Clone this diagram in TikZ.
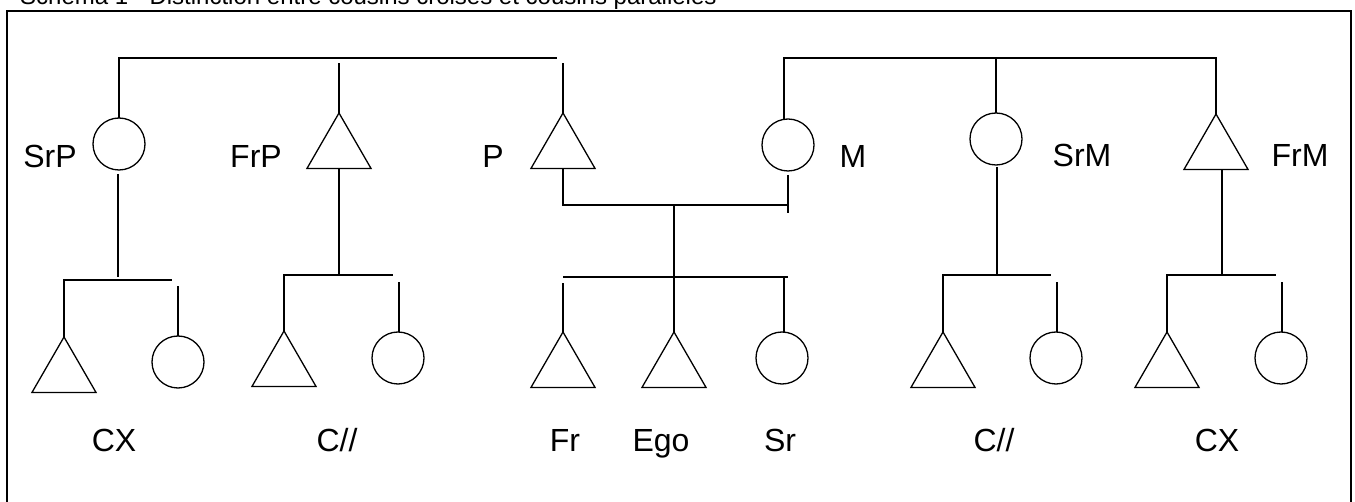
\documentclass[tikz,border=0pt]{standalone}
\usepackage{fontspec}
\setmainfont{Liberation Sans}
\usetikzlibrary{shapes.geometric}
\begin{document}
\begin{tikzpicture}[x=1pt,y=-1pt,
  ln/.style={line width=1.3pt,line cap=butt},
  fem/.style={circle,draw,line width=1.3pt,minimum size=52pt,inner sep=0pt,outer sep=0pt},
  mal/.style={regular polygon,regular polygon sides=3,draw,line width=1.3pt,minimum size=74pt,inner sep=0pt,outer sep=0pt},
  lbl/.style={anchor=base,inner sep=0pt,font=\fontsize{32}{38}\selectfont},
  ttl/.style={anchor=base west,inner sep=0pt,font=\fontsize{24}{28}\selectfont}]
\useasboundingbox (0,0) rectangle (1355,502);
% title (cut by the page edge) and frame
\node[ttl] (title) at (20,4.5) {Schéma 1 - Distinction entre cousins croisés et cousins parallèles};
\coordinate (fbl) at (7,600); \coordinate (ftl) at (7,11);
\coordinate (ftr) at (1351,11); \coordinate (fbr) at (1351,600);
\draw[line width=2.6pt] (fbl) -- (ftl) -- (ftr) -- (fbr);
% generation 1
\node[fem] (srp) at (119,144) {};
\node[mal] (frp) at (339,150) {};
\node[mal] (p) at (563,150) {};
\node[fem] (m) at (788,145) {};
\node[fem] (srm) at (996,139) {};
\node[mal] (frm) at (1216,151) {};
\node[lbl] (lsrp) at (50,168) {SrP};
\node[lbl] (lfrp) at (256,168) {FrP};
\node[lbl] (lp) at (493,168) {P};
\node[lbl] (lm) at (853,168) {M};
\node[lbl] (lsrm) at (1082,167) {SrM};
\node[lbl] (lfrm) at (1300,167) {FrM};
% generation 2
\node[mal] (a1) at (64,374) {};
\node[fem] (b1) at (178,362) {};
\node[mal] (a2) at (284,368) {};
\node[fem] (b2) at (398,358) {};
\node[mal] (fr) at (563,369) {};
\node[mal] (ego) at (674,369) {};
\node[fem] (sr) at (782,358) {};
\node[mal] (a3) at (943,369) {};
\node[fem] (b3) at (1056,358) {};
\node[mal] (a4) at (1167,369) {};
\node[fem] (b4) at (1281,358) {};
\node[lbl] (lcx1) at (114,452) {CX};
\node[lbl] (lcp1) at (337,452) {C//};
\node[lbl] (lfr) at (565,451) {Fr};
\node[lbl] (lego) at (661,451) {Ego};
\node[lbl] (lsr) at (780,451) {Sr};
\node[lbl] (lcp2) at (994,452) {C//};
\node[lbl] (lcx2) at (1217,452) {CX};
% sibling lines, generation 1
\coordinate (tl1) at (123,58); \coordinate (tl2) at (557,58);
\coordinate (tr1) at (784,58); \coordinate (tr2) at (1216,58);
\draw[ln] (srp.north) -- (srp.north |- tl1) -- (tl2);
\draw[ln] (frp.corner 1) -- ++(0,-50);
\draw[ln] (p.corner 1) -- ++(0,-50);
\draw[ln] (m.north) ++(-4,0) -- (tr1) -- (tr2) -- (frm.corner 1);
\draw[ln] (srm.north) -- (srm.north |- tr1);
% marriage P -- M
\coordinate (mp) at (563,205); \coordinate (mm) at (788,205);
\draw[ln] (p.south) -- (mp) -- (mm);
\draw[ln] (m.south) ++(0,4) -- ++(0,38);
\coordinate (md) at (674,205);
\draw[ln] (md) -- (ego.corner 1);
\coordinate (s1) at (563,277); \coordinate (s2) at (788,277);
\draw[ln] (s1) -- (s2);
\draw[ln] (fr.corner 1) -- ++(0,-49);
\draw[ln] (sr.north) ++(2,0) -- ++(0,-55);
% SrP children
\coordinate (h1a) at (64,280); \coordinate (h1b) at (172,280);
\draw[ln] (srp.south) ++(-1,4) -- ++(0,103);
\draw[ln] (a1.corner 1) -- (h1a) -- (h1b);
\draw[ln] (b1.north) -- ++(0,-50);
% FrP children
\coordinate (h2a) at (284,275); \coordinate (h2b) at (393,275);
\draw[ln] (frp.south) -- (frp.south |- h2a);
\draw[ln] (a2.corner 1) -- (h2a) -- (h2b);
\draw[ln] (b2.north) ++(1,0) -- ++(0,-50);
% SrM children
\coordinate (h3a) at (943,275); \coordinate (h3b) at (1051,275);
\draw[ln] (srm.south) ++(1,2) -- (997,275);
\draw[ln] (a3.corner 1) -- (h3a) -- (h3b);
\draw[ln] (b3.north) ++(1,0) -- ++(0,-50);
% FrM children
\coordinate (h4a) at (1167,275); \coordinate (h4b) at (1276,275);
\draw[ln] (frm.south) ++(6,0) -- (1222,275);
\draw[ln] (a4.corner 1) -- (h4a) -- (h4b);
\draw[ln] (b4.north) ++(1,0) -- ++(0,-50);
\end{tikzpicture}
\end{document}
